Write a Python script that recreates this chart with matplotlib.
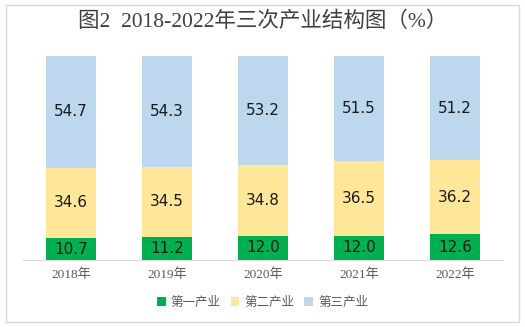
import matplotlib.pyplot as plt
from matplotlib.patches import Rectangle

plt.rcParams['font.family'] = ['Noto Sans CJK SC', 'DejaVu Sans']
serif_cjk = ['Liberation Serif', 'Noto Sans CJK SC']

years = ["2018年", "2019年", "2020年", "2021年", "2022年"]
primary = [10.7, 11.2, 12.0, 12.0, 12.6]
secondary = [34.6, 34.5, 34.8, 36.5, 36.2]
tertiary = [54.7, 54.3, 53.2, 51.5, 51.2]

fig = plt.figure(figsize=(5.25, 3.27), dpi=100)
# light gray frame round the whole chart
fig.patches.append(Rectangle((6 / 525, 5 / 327), 513 / 525, 317 / 327,
                             transform=fig.transFigure, fill=False,
                             edgecolor="#D9D9D9", linewidth=1))

ax = fig.add_axes([23 / 525, 67 / 327, 480 / 525, 204 / 327])
x = range(len(years))
w = 0.52
b1 = ax.bar(x, primary, w, color="#00B050", label="第一产业")
b2 = ax.bar(x, secondary, w, bottom=primary, color="#FFE699", label="第二产业")
bottom3 = [p + s for p, s in zip(primary, secondary)]
b3 = ax.bar(x, tertiary, w, bottom=bottom3, color="#BDD7EE", label="第三产业")

for bars in (b1, b2, b3):
    ax.bar_label(bars, labels=["%.1f" % v for v in bars.datavalues],
                 label_type="center", fontsize=11, color="#1A1A1A",
                 family="DejaVu Sans")

ax.set_xlim(-0.5, 4.5)
ax.set_ylim(0, 100)
ax.set_xticks(list(x))
ax.set_xticklabels(years, fontsize=9.5, color="#595959", family=serif_cjk)
ax.tick_params(axis="x", length=0, pad=6)
ax.set_yticks([])
for s in ("top", "left", "right"):
    ax.spines[s].set_visible(False)
ax.spines["bottom"].set_color("#D9D9D9")

fig.suptitle("图2  2018-2022年三次产业结构图（%）", y=1 - 22 / 327, va="center",
             fontsize=15.5, color="#404040", family=serif_cjk)
fig.legend(handles=[b1, b2, b3], loc="center", bbox_to_anchor=(0.5, 1 - 302 / 327),
           ncol=3, frameon=False, fontsize=9, handlelength=0.7, handleheight=0.7,
           handletextpad=0.4, columnspacing=0.8, labelcolor="#595959")

fig.savefig("out.png", dpi=100)
